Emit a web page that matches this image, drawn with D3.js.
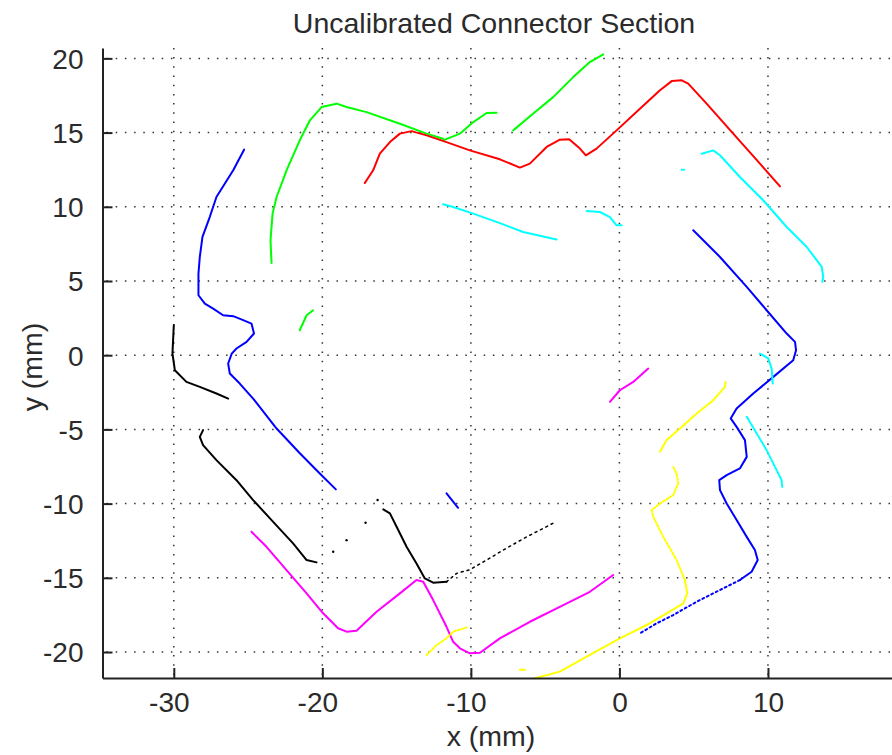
<!DOCTYPE html>
<html>
<head>
<meta charset="utf-8">
<script src="https://cdn.jsdelivr.net/npm/d3@7"></script>
<style>
  html, body { margin: 0; padding: 0; background: #fff; }
  svg { display: block; }
  text { font-family: "Liberation Sans", Arial, Helvetica, sans-serif; fill: #2b2b2b; }
</style>
</head>
<body>
<svg id="chart" width="892" height="755"></svg>
<script>
// ---------- DATA ----------
const titleText = "Uncalibrated Connector Section";
const xLabelText = "x (mm)";
const yLabelText = "y (mm)";
const xDomain = [-34.8, 18.35];
const yDomain = [-21.75, 20.7];
const xTicks = [-30, -20, -10, 0, 10];
const yTicks = [-20, -15, -10, -5, 0, 5, 10, 15, 20];

const blueLeft = [[-25.27,13.85],[-26.0,12.46],[-27.13,10.66],[-27.58,9.31],[-28.07,7.97],[-28.25,6.62],[-28.34,5.5],[-28.34,4.04],[-27.91,3.48],[-27.35,3.14],[-26.68,2.69],[-26.0,2.63],[-25.33,2.36],[-24.77,2.13],[-24.6,1.46],[-25.1,0.9],[-25.78,0.45],[-26.1,0.11],[-26.34,-0.56],[-26.23,-1.23],[-25.56,-1.91],[-24.66,-2.92],[-23.08,-4.94],[-21.5,-6.62],[-20.17,-7.97],[-19.09,-9.04]];
const blueSmall = [[-11.64,-9.31],[-10.86,-10.28]];
const blueRight = [[4.97,8.42],[6.77,6.62],[8.57,4.6],[9.91,3.03],[11.26,1.46],[11.82,0.9],[11.89,0.34],[11.7,-0.34],[10.36,-1.46],[9.01,-2.58],[7.89,-3.59],[7.49,-4.26],[7.89,-4.83],[8.45,-5.72],[8.57,-6.85],[8.11,-7.63],[7.22,-8.08],[6.72,-8.42],[6.77,-9.09],[7.22,-9.99],[7.89,-11.11],[8.57,-12.24],[9.12,-13.13],[9.31,-13.8],[8.9,-14.59],[8.11,-15.15]];
const blueRightTail = [[8.11,-15.15],[6.77,-15.82],[5.2,-16.61],[3.62,-17.51],[2.5,-18.07],[1.38,-18.74]];

const blackLeft = [[-30.0,2.02],[-30.09,0.11],[-29.93,-1.01],[-29.15,-1.8],[-28.25,-2.13],[-27.13,-2.58],[-26.34,-2.92]];
const blackMid = [[-28.03,-5.05],[-28.25,-5.5],[-28.03,-6.06],[-27.13,-7.07],[-25.78,-8.42],[-24.66,-9.76],[-23.31,-11.23],[-21.97,-12.68],[-21.06,-13.8],[-20.39,-13.96]];
const blackSpecks = [[-19.27,-13.24],[-18.37,-12.46],[-17.09,-11.29],[-16.28,-9.76]];
const blackRight = [[-15.9,-10.39],[-15.45,-10.66],[-15.0,-11.56],[-14.33,-12.91],[-13.66,-14.03],[-13.1,-15.04],[-12.54,-15.33],[-11.64,-15.27]];
const blackTail = [[-11.64,-15.27],[-10.96,-14.7],[-10.07,-14.45],[-8.94,-13.8],[-7.82,-13.13],[-6.25,-12.24],[-5.13,-11.67],[-4.3,-11.23]];

const magentaMain = [[-24.77,-11.9],[-23.76,-12.91],[-22.41,-14.48],[-21.06,-16.05],[-19.95,-17.39],[-18.94,-18.4],[-18.37,-18.63],[-17.7,-18.56],[-16.35,-17.29],[-14.78,-16.05],[-13.66,-15.15],[-13.21,-15.27],[-12.54,-16.5],[-11.64,-18.3],[-11.19,-19.31],[-10.74,-19.75],[-10.07,-20.09],[-9.39,-20.05],[-8.05,-19.08],[-6.03,-17.96],[-3.78,-16.84],[-1.99,-15.94],[-0.42,-14.81]];
const magentaSmall = [[-0.64,-3.14],[0.03,-2.36],[0.93,-1.8],[1.94,-0.9]];

const yellowSmall = [[-12.98,-20.2],[-12.31,-19.53],[-11.64,-19.08],[-11.19,-18.63],[-10.29,-18.34]];
const yellowDash = [[-6.7,-21.2],[-6.35,-21.2]];
const yellowLow = [[-5.69,-21.77],[-4.01,-21.32],[-1.99,-20.2],[0.03,-19.08],[1.83,-18.18],[3.18,-17.39],[4.3,-16.72],[4.57,-16.05],[4.41,-15.15]];
const yellowMid = [[4.41,-15.15],[3.85,-13.8],[2.95,-12.24],[2.28,-10.89],[2.17,-10.44],[2.73,-9.99],[3.62,-9.43],[3.96,-8.64],[3.85,-7.97],[3.62,-7.52]];
const yellowUp = [[2.73,-6.51],[3.18,-5.72],[4.07,-4.94],[5.2,-3.93],[6.32,-3.03],[7.1,-2.13],[7.15,-1.8]];

const cyanRight = [[5.54,13.58],[6.32,13.8],[6.77,13.47],[8.11,12.01],[9.68,10.44],[11.26,8.64],[12.61,7.29],[13.62,5.95],[13.72,5.27],[13.66,4.94]];
const cyanDot = [[4.19,12.5],[4.35,12.5]];
const cyanMidLeft = [[-11.87,10.17],[-11.19,9.99],[-9.84,9.54],[-8.05,8.9],[-6.48,8.3],[-4.23,7.79]];
const cyanMidRight = [[-2.21,9.72],[-1.31,9.65],[-0.64,9.31],[-0.19,8.75],[0.15,8.75]];
const cyanLowA = [[9.46,0.11],[10.02,-0.22],[10.25,-0.9],[10.32,-1.91]];
const cyanLowB = [[8.57,-4.15],[9.24,-5.27],[9.91,-6.4],[10.47,-7.52],[10.92,-8.42],[10.96,-8.87]];

const greenArc = [[-23.42,6.22],[-23.49,7.74],[-23.35,9.54],[-23.08,10.66],[-22.41,12.46],[-21.52,14.48],[-20.84,15.82],[-20.05,16.72],[-19.04,16.95],[-18.37,16.72],[-17.02,16.38],[-14.78,15.6],[-12.98,14.93],[-11.87,14.59]];
const greenHook = [[-11.87,14.48],[-10.74,14.93],[-9.84,15.71],[-8.94,16.32],[-8.27,16.34]];
const greenDiag = [[-7.15,15.15],[-5.8,16.28],[-4.46,17.39],[-3.11,18.74],[-1.99,19.75],[-1.09,20.27]];
const greenSmall = [[-21.52,1.68],[-21.06,2.69],[-20.62,3.03]];

const redMain = [[-17.14,11.6],[-16.58,12.46],[-16.13,13.58],[-15.45,14.36],[-14.78,14.93],[-13.99,15.1],[-12.98,14.81],[-11.64,14.36],[-10.07,13.8],[-8.05,13.2],[-6.7,12.64],[-6.03,12.91],[-4.9,14.03],[-4.01,14.52],[-3.38,14.55],[-2.66,13.92],[-2.26,13.47],[-1.54,13.92],[-0.19,15.15],[1.38,16.61],[2.73,17.85],[3.52,18.47],[4.19,18.52],[4.63,18.3],[5.87,16.95],[7.66,14.93],[9.46,12.91],[10.81,11.38]];

// series table (data + style key)
const palette = { blue: "#0000ff", black: "#000000", magenta: "#ff00ff", yellow: "#ffff00", cyan: "#00ffff", green: "#00ff00", red: "#ff0000" };
const series = [
  { pts: blueLeft, c: "blue" }, { pts: blueSmall, c: "blue" }, { pts: blueRight, c: "blue" },
  { pts: blueRightTail, c: "blue", dash: "2,3" },
  { pts: blackLeft, c: "black" }, { pts: blackMid, c: "black" }, { pts: blackRight, c: "black" },
  { pts: blackTail, c: "black", dash: "2,4", w: 1.5 },
  { pts: magentaMain, c: "magenta" }, { pts: magentaSmall, c: "magenta" },
  { pts: yellowSmall, c: "yellow", dash: "2,2" }, { pts: yellowDash, c: "yellow" },
  { pts: yellowLow, c: "yellow" }, { pts: yellowMid, c: "yellow", dash: "2,2" }, { pts: yellowUp, c: "yellow" },
  { pts: cyanRight, c: "cyan" }, { pts: cyanDot, c: "cyan" }, { pts: cyanMidLeft, c: "cyan" },
  { pts: cyanMidRight, c: "cyan" }, { pts: cyanLowA, c: "cyan" }, { pts: cyanLowB, c: "cyan", dash: "3,1.5" },
  { pts: greenArc, c: "green" }, { pts: greenHook, c: "green" }, { pts: greenDiag, c: "green" }, { pts: greenSmall, c: "green" },
  { pts: redMain, c: "red" }
];

// ---------- LAYOUT ----------
const svg = d3.select("#chart");
svg.append("rect").attr("width", 892).attr("height", 755).attr("fill", "#fff");

const x = d3.scaleLinear().domain(xDomain).range([102.5, 892]);
const y = d3.scaleLinear().domain(yDomain).range([678, 48]);

const plotLeft = x.range()[0], plotRight = x.range()[1];
const plotTop = y.range()[1], plotBottom = y.range()[0];

// grid
const grid = svg.append("g").attr("stroke", "#333").attr("stroke-width", 1.5)
  .attr("stroke-dasharray", "1.5,7.7").attr("fill", "none");
yTicks.forEach(t => {
  grid.append("line").attr("x1", plotLeft + 4).attr("x2", plotRight)
    .attr("y1", y(t)).attr("y2", y(t));
});
xTicks.forEach(t => {
  grid.append("line").attr("x1", x(t)).attr("x2", x(t))
    .attr("y1", plotBottom - 3).attr("y2", plotTop);
});

// data
const line = d3.line().x(d => x(d[0])).y(d => y(d[1]));
const gData = svg.append("g").attr("fill", "none").attr("stroke-linejoin", "round").attr("stroke-linecap", "round");
series.forEach(s => {
  gData.append("path").attr("d", line(s.pts))
    .attr("stroke", palette[s.c])
    .attr("stroke-width", s.w || 2)
    .attr("stroke-dasharray", s.dash || null);
});
svg.append("g").selectAll("circle").data(blackSpecks).join("circle")
  .attr("cx", d => x(d[0])).attr("cy", d => y(d[1])).attr("r", 1.2).attr("fill", "#000");

// axes (box off, inward ticks)
const fmt = d => String(d);   // plain hyphen minus, as in the reference
const xAxis = d3.axisBottom(x).tickValues(xTicks).tickSizeInner(-10).tickSizeOuter(0).tickPadding(14)
  .tickFormat(fmt);
const yAxis = d3.axisLeft(y).tickValues(yTicks).tickSizeInner(-10).tickSizeOuter(0).tickPadding(19)
  .tickFormat(fmt);

const gx = svg.append("g").attr("transform", `translate(0,${plotBottom})`).call(xAxis);
const gy = svg.append("g").attr("transform", `translate(${plotLeft},0)`).call(yAxis);
[gx, gy].forEach(g => {
  g.select(".domain").attr("stroke", "#222").attr("stroke-width", 2);
  g.selectAll(".tick line").attr("stroke", "#222").attr("stroke-width", 2);
  g.selectAll(".tick text").attr("font-size", 28)
    .attr("font-family", '"Liberation Sans", Arial, sans-serif').attr("fill", "#2b2b2b");
});
gx.selectAll(".tick text").attr("dx", d => d < 0 ? -5 : 0).attr("dy", "0.71em");
gy.selectAll(".tick text").attr("dy", "0.35em");

// title and labels
svg.append("text").attr("x", 494).attr("y", 33).attr("text-anchor", "middle")
  .attr("font-size", 28.5).text(titleText);
svg.append("text").attr("x", 491).attr("y", 746).attr("text-anchor", "middle")
  .attr("font-size", 28.5).text(xLabelText);
svg.append("text").attr("transform", "translate(42,367) rotate(-90)").attr("text-anchor", "middle")
  .attr("font-size", 28.5).text(yLabelText);
</script>
</body>
</html>
